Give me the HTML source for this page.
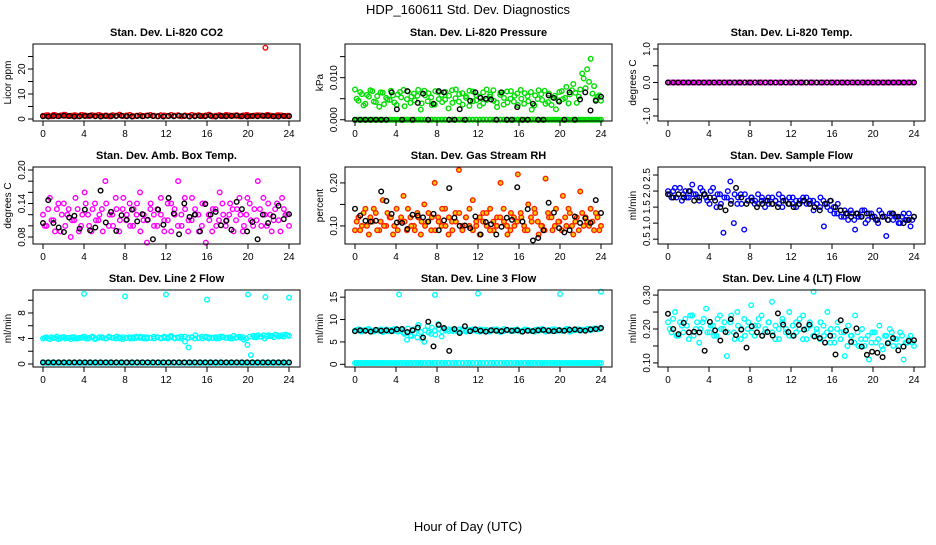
<!DOCTYPE html>
<html><head><meta charset="utf-8"><style>
body{margin:0;background:#fff;font-family:"Liberation Sans",sans-serif}
svg text{font-family:"Liberation Sans",sans-serif}
</style></head><body>
<svg id="c" width="936" height="540" xmlns="http://www.w3.org/2000/svg">
<text x="468" y="14" text-anchor="middle" font-size="13">HDP_160611  Std. Dev. Diagnostics</text>
<text x="468" y="531" text-anchor="middle" font-size="13">Hour of Day (UTC)</text>
</svg>
<script>
// ---- data ----
const xTicks=[0,4,8,12,16,20,24];
const titles=["Stan. Dev. Li-820 CO2","Stan. Dev. Li-820 Pressure","Stan. Dev. Li-820 Temp.","Stan. Dev. Amb. Box Temp.","Stan. Dev. Gas Stream RH","Stan. Dev. Sample Flow","Stan. Dev. Line 2 Flow","Stan. Dev. Line 3 Flow","Stan. Dev. Line 4 (LT) Flow"];
const yLabels=["Licor ppm","kPa","degrees C","degrees C","percent","ml/min","ml/min","ml/min","ml/min"];
const yDomains=[[-0.8,30],[-0.0003,0.018],[-1.15,1.15],[0.0675,0.2054],[0.058,0.237],[0.35,2.75],[-0.47,11.6],[-0.6,16.6],[0.088,0.315]];
const yTickVals=[[0,5,10,15,20,25],[0,0.005,0.01,0.015],[-1,-0.5,0,0.5,1],[0.08,0.1,0.12,0.14,0.16,0.18,0.2],[0.1,0.15,0.2],[0.5,1,1.5,2,2.5],[0,2,4,6,8,10],[0,5,10,15],[0.1,0.15,0.2,0.25,0.3]];
const yTickLabels=[["0","","10","","20",""],["0.000","","0.010",""],["-1.0","","0.0","","1.0"],["0.08","","","0.14","","","0.20"],["0.10","","0.20"],["0.5","1.0","1.5","2.0","2.5"],["0","","4","","8",""],["0","5","10","15"],["0.10","","0.20","","0.30"]];
// colored series values (evenly spaced over 0-24 h)
const co2Col=[1.3,1.5,1.1,1.6,1.2,1.4,1.7,1.2,1.3,1.5,1.1,1.6,1.4,1.2,1.5,1.3,1.6,1.2,1.4,1.1,1.5,1.3,1.7,1.2,1.4,1.6,1.1,1.3,1.5,1.2,1.4,1.6,1.3,1.1,1.5,1.4,1.2,1.6,1.3,1.5,1.1,1.4,1.2,1.6,1.3,1.5,1.2,1.4,1.7,1.1,1.3,1.5,1.2,1.6,1.4,1.3,1.5,1.1,1.4,1.6,1.2,1.3,1.5,1.4,1.2,1.6,1.3,1.1,1.5,1.4,1.2,1.3];
const co2Blk=[1.1,1.0,1.2,1.1,1.3,1.2,1.0,1.1,1.2,1.3,1.1,1.0,1.2,1.1,1.2,1.3,1.1,1.0,1.2,1.1,1.3,1.2,1.1,1.0,1.2,1.1,1.3,1.2,1.0,1.1,1.2,1.1,1.3,1.0,1.2,1.1,1.2,1.3,1.1,1.0,1.2,1.1,1.3,1.2,1.1,1.0,1.2,1.1];
const presCol=[0.0072,0.0045,0.0061,0.0038,0.0055,0.0068,0.0042,0.0031,0.0064,0.0052,0.0047,0.0058,0.0035,0.0066,0.0071,0.0049,0.0040,0.0062,0.0057,0.0024,0.0069,0.0044,0.0053,0.0036,0.0065,0.0059,0.0048,0.0027,0.0070,0.0051,0.0043,0.0063,0.0056,0.0033,0.0067,0.0046,0.0054,0.0039,0.0072,0.0060,0.0045,0.0030,0.0064,0.0052,0.0041,0.0068,0.0057,0.0035,0.0050,0.0063,0.0044,0.0024,0.0058,0.0070,0.0047,0.0038,0.0062,0.0053,0.0025,0.0066,0.0049,0.0078,0.0060,0.0085,0.0040,0.0072,0.0098,0.0120,0.0145,0.0080,0.0055,0.0045];
const presCol2=[0.0050,0.0066,0.0034,0.0059,0.0070,0.0043,0.0056,0.0065,0.0037,0.0048,0.0069,0.0041,0.0060,0.0053,0.0032,0.0067,0.0055,0.0046,0.0071,0.0039,0.0058,0.0063,0.0035,0.0068,0.0049,0.0042,0.0066,0.0057,0.0040,0.0072,0.0061,0.0036,0.0052,0.0069,0.0044,0.0058,0.0033,0.0065,0.0047,0.0055,0.0070,0.0041,0.0059,0.0036,0.0067,0.0050,0.0043,0.0062,0.0071,0.0038,0.0056,0.0066,0.0034,0.0049,0.0061,0.0069,0.0042,0.0035,0.0057,0.0046,0.0068,0.0052,0.0039,0.0070,0.0064,0.0055,0.0110,0.0075,0.0090,0.0062,0.0048,0.0058];
const presZero=[0,0,0,0,0,0,0,0,0,0,0,0,0,0,0,0,0,0,0,0,0,0,0,0,0,0,0,0,0,0,0,0,0,0,0,0,0,0,0,0,0,0,0,0,0,0,0,0,0,0,0,0,0,0,0,0,0,0,0,0,0,0,0,0,0,0,0,0,0,0,0,0];
const presBlk=[0,0,0,0,0,0,0,0.0065,0.0025,0,0.0068,0,0.0040,0.0062,0,0.0038,0.0068,0.0065,0,0,0.0025,0,0.0045,0.0065,0.0052,0.0050,0.0048,0,0.0065,0,0,0.0030,0,0,0.0038,0,0,0.0058,0.0052,0.0043,0,0.0065,0,0.0048,0.0065,0.0022,0.0045,0.0055];
const tempCol=presZero;
const tempBlk=[0,0,0,0,0,0,0,0,0,0,0,0,0,0,0,0,0,0,0,0,0,0,0,0,0,0,0,0,0,0,0,0,0,0,0,0,0,0,0,0,0,0,0,0,0,0,0,0,0];
const ambCol=[0.12,0.10,0.15,0.11,0.13,0.09,0.14,0.12,0.08,0.11,0.13,0.10,0.16,0.12,0.09,0.14,0.11,0.13,0.18,0.10,0.12,0.15,0.09,0.13,0.11,0.14,0.10,0.12,0.16,0.11,0.07,0.13,0.12,0.10,0.15,0.11,0.14,0.09,0.12,0.18,0.10,0.13,0.11,0.15,0.12,0.09,0.14,0.07,0.11,0.13,0.10,0.16,0.12,0.11,0.14,0.09,0.13,0.12,0.10,0.15,0.11,0.13,0.18,0.10,0.12,0.14,0.09,0.13,0.11,0.15,0.12,0.10];
const ambCol2=[0.10,0.13,0.11,0.09,0.14,0.12,0.10,0.13,0.11,0.15,0.09,0.12,0.14,0.10,0.13,0.11,0.12,0.09,0.14,0.12,0.10,0.13,0.11,0.15,0.12,0.10,0.13,0.14,0.09,0.12,0.11,0.14,0.10,0.13,0.12,0.09,0.11,0.14,0.13,0.10,0.12,0.15,0.09,0.11,0.13,0.12,0.10,0.14,0.12,0.09,0.13,0.11,0.14,0.10,0.12,0.13,0.11,0.15,0.09,0.12,0.14,0.10,0.11,0.13,0.15,0.10,0.12,0.11,0.14,0.09,0.13,0.12];
const ambBlk=[0.105,0.146,0.105,0.097,0.089,0.115,0.118,0.095,0.129,0.092,0.097,0.163,0.106,0.125,0.091,0.119,0.111,0.129,0.108,0.121,0.111,0.076,0.129,0.102,0.150,0.122,0.085,0.140,0.116,0.120,0.090,0.139,0.120,0.125,0.101,0.109,0.093,0.143,0.130,0.090,0.107,0.076,0.120,0.105,0.117,0.136,0.112,0.121];
const rhCol=[0.09,0.12,0.10,0.14,0.08,0.11,0.13,0.09,0.16,0.10,0.12,0.08,0.14,0.11,0.17,0.09,0.12,0.10,0.13,0.08,0.15,0.11,0.09,0.20,0.12,0.10,0.14,0.08,0.11,0.13,0.23,0.09,0.12,0.10,0.16,0.11,0.08,0.13,0.10,0.14,0.09,0.12,0.20,0.11,0.08,0.13,0.10,0.22,0.12,0.09,0.15,0.11,0.13,0.08,0.10,0.21,0.12,0.09,0.14,0.11,0.17,0.10,0.13,0.08,0.12,0.18,0.10,0.11,0.14,0.09,0.12,0.10];
const rhCol2=[0.11,0.09,0.13,0.10,0.12,0.14,0.09,0.11,0.10,0.13,0.12,0.10,0.09,0.12,0.11,0.14,0.10,0.09,0.12,0.11,0.10,0.13,0.12,0.09,0.11,0.14,0.10,0.12,0.09,0.11,0.13,0.10,0.12,0.14,0.09,0.10,0.12,0.11,0.13,0.09,0.11,0.10,0.12,0.14,0.10,0.09,0.12,0.11,0.13,0.10,0.09,0.12,0.14,0.11,0.10,0.09,0.13,0.12,0.10,0.11,0.09,0.12,0.14,0.10,0.11,0.09,0.13,0.12,0.10,0.11,0.13,0.09];
const rhBlk=[0.140,0.124,0.112,0.110,0.112,0.180,0.158,0.128,0.108,0.107,0.093,0.126,0.124,0.120,0.110,0.128,0.090,0.113,0.188,0.119,0.100,0.101,0.095,0.122,0.080,0.109,0.104,0.080,0.098,0.119,0.114,0.190,0.110,0.139,0.066,0.072,0.090,0.154,0.131,0.095,0.085,0.090,0.122,0.107,0.118,0.107,0.160,0.130];
const flowCol=[2.0,1.8,2.1,1.9,1.7,2.0,1.8,2.2,1.9,1.7,2.0,1.8,1.6,2.1,1.5,1.9,0.7,1.8,2.3,1.0,1.6,1.9,0.8,1.7,1.8,1.6,1.9,1.7,1.5,1.8,1.6,1.7,1.9,1.5,1.7,1.8,1.6,1.5,1.7,1.8,1.6,1.7,1.4,1.6,1.8,0.9,1.5,1.7,1.3,1.6,1.2,1.4,1.1,1.3,0.8,1.2,1.4,1.0,1.3,1.2,1.1,1.4,1.2,0.6,1.3,1.1,1.2,1.0,1.3,1.1,0.9,1.2];
const flowCol2=[1.9,2.0,1.8,2.1,1.9,1.8,2.0,1.9,1.8,2.1,1.9,1.7,2.0,1.8,1.9,1.6,1.8,2.0,1.7,1.9,1.8,1.6,1.9,1.7,1.8,1.7,1.6,1.8,1.7,1.6,1.8,1.7,1.6,1.8,1.7,1.6,1.8,1.7,1.6,1.7,1.8,1.6,1.7,1.6,1.5,1.7,1.6,1.4,1.5,1.3,1.4,1.2,1.3,1.4,1.1,1.3,1.2,1.4,1.1,1.3,1.2,1.0,1.3,1.2,1.1,1.3,1.2,1.0,1.2,1.1,1.3,1.1];
const flowBlk=[1.9,1.8,1.9,1.8,2.0,1.7,1.8,1.9,1.8,1.7,1.5,1.4,1.6,2.1,1.8,1.6,1.7,1.5,1.6,1.7,1.6,1.5,1.7,1.6,1.5,1.6,1.7,1.6,1.5,1.4,1.6,1.7,1.5,1.4,1.3,1.2,1.3,1.2,1.3,1.2,1.1,1.2,1.1,1.3,1.2,1.0,1.1,1.2];
const l2Col=[4.0,4.2,3.9,4.1,4.3,4.0,4.2,4.1,3.9,4.2,4.0,4.1,4.3,4.0,4.2,3.9,4.1,4.2,4.0,4.3,4.1,4.0,4.2,3.9,4.1,4.2,4.0,4.3,4.1,4.2,4.0,4.1,4.3,4.2,4.0,4.1,4.2,4.4,4.0,4.1,4.3,3.5,2.6,4.2,4.5,4.1,4.0,4.3,4.2,4.1,4.0,4.3,4.2,4.1,4.0,4.4,4.2,4.1,3.8,3.0,1.4,4.2,4.5,4.3,4.0,4.5,4.4,4.6,4.3,4.5,4.6,4.4];
const l2Col2=[4.1,4.0,4.2,4.1,3.9,4.2,4.0,4.1,4.2,4.0,4.1,4.2,4.0,4.1,4.3,4.0,4.2,4.1,4.0,4.2,4.1,4.3,4.0,4.2,4.1,4.0,4.2,4.1,4.3,4.0,4.2,4.1,4.0,4.2,4.1,4.3,4.0,4.2,4.1,4.2,4.0,4.3,4.1,4.2,4.0,4.1,4.3,4.2,4.0,4.1,4.2,4.0,4.3,4.1,4.2,4.0,4.1,4.3,4.2,4.0,4.3,4.4,4.2,4.3,4.5,4.3,4.4,4.2,4.5,4.4,4.3,4.5];
const l2Low=[0.2,0.2,0.2,0.2,0.2,0.2,0.2,0.2,0.2,0.2,0.2,0.2,0.2,0.2,0.2,0.2,0.2,0.2,0.2,0.2,0.2,0.2,0.2,0.2,0.2,0.2,0.2,0.2,0.2,0.2,0.2,0.2,0.2,0.2,0.2,0.2,0.2,0.2,0.2,0.2,0.2,0.2,0.2,0.2,0.2,0.2,0.2,0.2,0.2,0.2,0.2,0.2,0.2,0.2,0.2,0.2,0.2,0.2,0.2,0.2,0.2,0.2,0.2,0.2,0.2,0.2,0.2,0.2,0.2,0.2,0.2,0.2];
const l2Blk=[0.25,0.25,0.25,0.25,0.25,0.25,0.25,0.25,0.25,0.25,0.25,0.25,0.25,0.25,0.25,0.25,0.25,0.25,0.25,0.25,0.25,0.25,0.25,0.25,0.25,0.25,0.25,0.25,0.25,0.25,0.25,0.25,0.25,0.25,0.25,0.25,0.25,0.25,0.25,0.25,0.25,0.25,0.25,0.25,0.25,0.25,0.25,0.25];
const l2OutX=[4.0,8.0,12.0,16.0,20.0,21.7,24.0];
const l2OutY=[11.0,10.6,10.9,10.1,10.9,10.5,10.4];
const l3Col=[7.5,7.8,7.3,7.6,7.9,7.4,7.7,7.5,7.2,7.8,7.6,7.4,7.9,7.5,7.0,5.5,6.5,7.8,6.0,7.2,5.0,8.5,6.8,7.5,9.0,6.2,7.8,7.4,7.7,7.5,7.3,7.9,7.6,7.4,7.8,7.5,7.3,7.7,7.6,7.4,7.8,7.5,7.2,7.9,7.6,7.4,7.7,7.5,7.3,7.8,7.6,7.4,7.7,7.5,7.9,7.3,7.6,7.8,7.4,7.7,7.5,7.9,7.3,7.6,7.8,7.5,7.7,7.9,7.6,8.0,7.8,8.1];
const l3Col2=[7.7,7.4,7.6,7.8,7.5,7.3,7.6,7.8,7.5,7.4,7.7,7.9,7.3,7.8,6.8,8.0,6.3,7.0,8.8,5.8,7.6,7.1,8.2,6.6,7.9,7.3,7.6,7.8,7.4,7.6,7.8,7.5,7.3,7.7,7.6,7.4,7.8,7.5,7.7,7.3,7.6,7.8,7.5,7.4,7.7,7.6,7.5,7.8,7.4,7.6,7.7,7.5,7.3,7.8,7.6,7.5,7.7,7.4,7.8,7.6,7.5,7.7,7.9,7.5,7.6,7.8,7.7,7.6,7.9,7.8,8.0,7.9];
const l3Low=[0.3,0.3,0.3,0.3,0.3,0.3,0.3,0.3,0.3,0.3,0.3,0.3,0.3,0.3,0.3,0.3,0.3,0.3,0.3,0.3,0.3,0.3,0.3,0.3,0.3,0.3,0.3,0.3,0.3,0.3,0.3,0.3,0.3,0.3,0.3,0.3,0.3,0.3,0.3,0.3,0.3,0.3,0.3,0.3,0.3,0.3,0.3,0.3,0.3,0.3,0.3,0.3,0.3,0.3,0.3,0.3,0.3,0.3,0.3,0.3,0.3,0.3,0.3,0.3,0.3,0.3,0.3,0.3,0.3,0.3,0.3,0.3];
const l3Blk=[7.4,7.6,7.5,7.3,7.7,7.5,7.6,7.4,7.8,7.9,7.2,7.6,8.2,6.0,9.5,4.0,8.8,8.1,3.0,7.9,7.0,8.5,7.4,7.8,7.5,7.3,7.6,7.5,7.4,7.7,7.5,7.6,7.3,7.5,7.4,7.6,7.7,7.5,7.4,7.6,7.5,7.7,7.8,7.6,7.5,7.8,7.9,8.1];
const l3OutX=[4.3,7.8,12.0,20.0,24.0];
const l3OutY=[15.6,15.5,15.8,15.7,16.2];
const l4Col=[0.22,0.19,0.25,0.18,0.21,0.23,0.17,0.24,0.20,0.16,0.22,0.26,0.19,0.21,0.18,0.24,0.20,0.12,0.22,0.19,0.25,0.17,0.23,0.20,0.27,0.18,0.21,0.24,0.19,0.22,0.28,0.17,0.20,0.23,0.19,0.25,0.18,0.22,0.20,0.24,0.17,0.21,0.31,0.19,0.22,0.18,0.25,0.20,0.16,0.22,0.19,0.12,0.21,0.18,0.24,0.15,0.20,0.17,0.11,0.19,0.16,0.21,0.14,0.18,0.20,0.15,0.17,0.19,0.11,0.16,0.18,0.15];
const l4Col2=[0.20,0.23,0.18,0.22,0.19,0.21,0.24,0.18,0.22,0.20,0.23,0.19,0.21,0.18,0.23,0.20,0.22,0.19,0.24,0.17,0.21,0.20,0.18,0.22,0.19,0.21,0.23,0.18,0.20,0.22,0.19,0.21,0.17,0.22,0.20,0.18,0.21,0.19,0.23,0.17,0.20,0.22,0.18,0.20,0.17,0.21,0.19,0.16,0.18,0.20,0.17,0.19,0.15,0.18,0.16,0.19,0.17,0.15,0.18,0.16,0.19,0.17,0.15,0.18,0.16,0.19,0.17,0.15,0.18,0.16,0.17,0.16];
const l4Blk=[0.245,0.200,0.185,0.218,0.190,0.192,0.190,0.136,0.221,0.196,0.166,0.191,0.229,0.182,0.198,0.145,0.208,0.190,0.180,0.191,0.181,0.246,0.213,0.191,0.180,0.212,0.198,0.213,0.178,0.173,0.160,0.180,0.125,0.226,0.195,0.162,0.202,0.148,0.124,0.133,0.130,0.117,0.158,0.173,0.137,0.148,0.165,0.167];
</script>
<script>
const svg=document.getElementById('c');
const NS='http://www.w3.org/2000/svg';
const colL=[33,345,658],rowT=[44,167,290],W=267,H=77;
function mk(tag,attrs,parent){const e=document.createElementNS(NS,tag);for(const k in attrs)e.setAttribute(k,attrs[k]);(parent||svg).appendChild(e);return e;}
// [values, stroke, fill, explicitX, halfStepOffset]
const series=[
 [[co2Col,'#ff0000',null],[co2Col,'#ff0000',null,null,1],[co2Blk,'#000',null],[[28.5],'#ff0000',null,[21.7]]],
 [[presZero,'#00dd00',null],[presZero,'#00dd00',null,null,1],[presCol,'#00dd00',null],[presCol2,'#00dd00',null,null,1],[presBlk,'#000',null]],
 [[tempCol,'#ff00ff',null],[tempCol,'#ff00ff',null,null,1],[tempBlk,'#000',null]],
 [[ambCol,'#ff00ff',null],[ambCol2,'#ff00ff',null,null,1],[ambBlk,'#000',null]],
 [[rhCol,'#ff2200','#ffcc00'],[rhCol2,'#ff2200','#ffcc00',null,1],[rhBlk,'#000',null]],
 [[flowCol,'#0000ff',null],[flowCol2,'#0000ff',null,null,1],[flowBlk,'#000',null]],
 [[l2Col,'#00ffff',null],[l2Col2,'#00ffff',null,null,1],[l2Low,'#00ffff',null],[l2Low,'#00ffff',null,null,1],[l2OutY,'#00ffff',null,l2OutX],[l2Blk,'#000',null]],
 [[l3Col,'#00ffff',null],[l3Col2,'#00ffff',null,null,1],[l3Low,'#00ffff',null],[l3Low,'#00ffff',null,null,1],[l3OutY,'#00ffff',null,l3OutX],[l3Blk,'#000',null]],
 [[l4Col,'#00ffff',null],[l4Col2,'#00ffff',null,null,1],[l4Blk,'#000',null]]
];
for(let p=0;p<9;p++){
 const L=colL[p%3],T=rowT[Math.floor(p/3)];
 const g=mk('g',{});
 
 
 const xs=v=>L+10+v/24*246;
 const [d0,d1]=yDomains[p];
 const ys=v=>T+H-(v-d0)/(d1-d0)*H;
 const t=mk('text',{x:L+W/2,y:T-8,'text-anchor':'middle','font-size':11,'font-weight':'bold'},g);t.textContent=titles[p];
 
 
 series[p].forEach(s=>{
  const vals=s[0],n=vals.length;
  vals.forEach((v,i)=>{
   let xv=s[3]?s[3][i]:(n>1?i*24/(n-1):0);
   if(s[4]) xv=(i+0.5)*24/n;
   const c=mk('circle',{cx:xs(xv),cy:ys(v),r:2.3,fill:s[2]||'none',stroke:s[1],'stroke-width':1.4},g);
   
   
  });
 });
 const box=mk('rect',{x:L,y:T,width:W,height:H,fill:'none',stroke:'#000','stroke-width':1},g);
 
 
 xTicks.forEach(v=>{
  mk('line',{x1:xs(v),x2:xs(v),y1:T+H,y2:T+H+5,stroke:'#000'},g);
  const tx=mk('text',{x:xs(v),y:T+H+16,'text-anchor':'middle','font-size':10},g);tx.textContent=v;
  
  
 });
 yTickVals[p].forEach((v,i)=>{
  const y=ys(v);
  mk('line',{x1:L-5,x2:L,y1:y,y2:y,stroke:'#000'},g);
  const lab=yTickLabels[p][i];
  if(lab){const ty=mk('text',{x:L-8,y:y,'text-anchor':'middle','font-size':10,transform:`rotate(-90 ${L-8} ${y})`},g);ty.textContent=lab;
   
   }
 });
 const yl=mk('text',{x:L-22,y:T+H/2,'text-anchor':'middle','font-size':10,transform:`rotate(-90 ${L-22} ${T+H/2})`},g);yl.textContent=yLabels[p];
 
 
}
</script>
</body></html>
